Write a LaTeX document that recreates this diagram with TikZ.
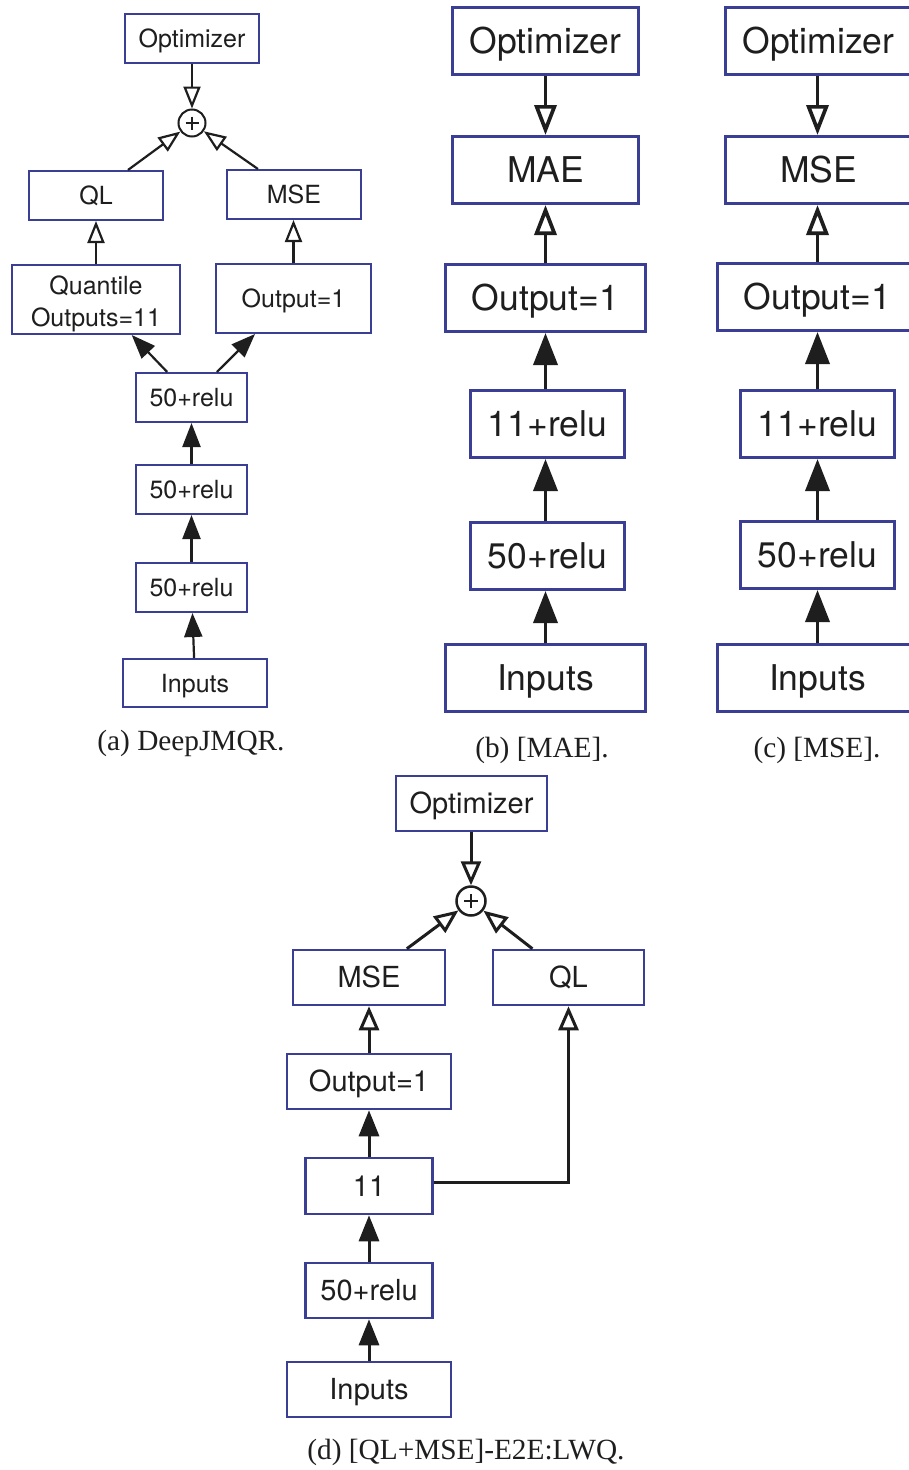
\documentclass[tikz,border=0pt]{standalone}
\usepackage{fontspec}
\setmainfont{Liberation Serif}
\newfontfamily\hv{TeX Gyre Heros}
\usetikzlibrary{arrows.meta,calc}
\definecolor{boxblue}{RGB}{58,62,148}
\definecolor{ink}{RGB}{30,30,30}
\begin{document}
\begin{tikzpicture}[x=1pt,y=-1pt,
  bxA/.style={draw=boxblue, line width=2pt, fill=white, inner sep=0pt, align=center, text=ink, font=\hv\fontsize{25}{32}\selectfont, text height=18pt, text depth=0pt},
  bxB/.style={draw=boxblue, line width=3pt, fill=white, inner sep=0pt, align=center, text=ink, font=\hv\fontsize{35.5}{40}\selectfont, text height=25.6pt, text depth=0pt},
  bxD/.style={draw=boxblue, line width=2.5pt, fill=white, inner sep=0pt, align=center, text=ink, font=\hv\fontsize{29}{34}\selectfont, text height=20.9pt, text depth=0pt},
  sumnode/.style={draw=ink, circle, inner sep=0pt, fill=white},
  capt/.style={font=\fontsize{29.3}{32}\selectfont, text=ink, inner sep=0pt},
  oA/.style={draw=ink, line width=2.2pt, -{Triangle[length=22pt,width=17pt,fill=white]}},
  fA/.style={draw=ink, line width=2.2pt, -{Triangle[length=24pt,width=18pt]}},
  oB/.style={draw=ink, line width=3.7pt, -{Triangle[length=30pt,width=22pt,fill=white]}},
  fB/.style={draw=ink, line width=3.7pt, -{Triangle[length=32pt,width=24pt]}},
  oD/.style={draw=ink, line width=3pt, -{Triangle[length=24pt,width=20pt,fill=white]}},
  fD/.style={draw=ink, line width=3pt, -{Triangle[length=26pt,width=20pt]}},
  pls/.style={draw=ink, line width=1.1pt}
]
\useasboundingbox (0,0) rectangle (908,1470);
\fill[white] (0,0) rectangle (908,1470);

% ---------- (a) DeepJMQR ----------
\node[bxA, minimum width=134pt, minimum height=49pt] (optA) at (192,38.5) {Optimizer};
\node[sumnode, line width=2pt, minimum size=27pt] (plusA) at (192,123) {};
\draw[pls] ($(plusA)+(-6.5,0)$) -- ($(plusA)+(6.5,0)$) ($(plusA)+(0,-6.5)$) -- ($(plusA)+(0,6.5)$);
\node[bxA, minimum width=134pt, minimum height=49pt] (qlA) at (96,195.5) {QL};
\node[bxA, minimum width=134pt, minimum height=49pt] (mseA) at (294,194.5) {MSE};
\node[bxA, minimum width=168pt, minimum height=69pt, text height=0pt, text depth=0pt] (quantA) at (96,299.5) {\raisebox{-10.75pt}[0pt][0pt]{\begin{tabular}{@{}c@{}}Quantile\\Outputs=11\end{tabular}}};
\node[bxA, minimum width=155pt, minimum height=69pt] (outA) at (293.5,298.5) {Output=1};
\node[bxA, minimum width=111pt, minimum height=49pt] (r1A) at (191.5,397.5) {50+relu};
\node[bxA, minimum width=111pt, minimum height=49pt] (r2A) at (191.5,489.5) {50+relu};
\node[bxA, minimum width=111pt, minimum height=49pt] (r3A) at (191.5,587.5) {50+relu};
\node[bxA, minimum width=144pt, minimum height=48pt] (inA) at (195,683) {Inputs};
\node[capt] (capA) at (191,743) {(a) DeepJMQR.};

\draw[oA] (optA) -- (plusA);
\draw[oA] ($(qlA.north)!0.47!(qlA.north east)$) -- (plusA);
\draw[oA] ($(mseA.north)!0.53!(mseA.north west)$) -- (plusA);
\draw[oA] (quantA) -- (qlA);
\draw[oA] (outA.north) -- (outA.north |- mseA.south);
\draw[fA] ($(r1A.north)!0.43!(r1A.north west)$) -- ($(quantA.south)!0.42!(quantA.south east)$);
\draw[fA] ($(r1A.north)!0.45!(r1A.north east)$) -- ($(outA.south)!0.49!(outA.south west)$);
\draw[fA] (r2A) -- (r1A);
\draw[fA] (r3A) -- (r2A);
\draw[fA] (inA) -- (r3A);

% ---------- (b) [MAE] ----------
\node[bxB, minimum width=186pt, minimum height=67pt] (optB) at (545.5,41) {Optimizer};
\node[bxB, minimum width=186pt, minimum height=67pt] (maeB) at (545.5,170) {MAE};
\node[bxB, minimum width=200pt, minimum height=67pt] (outB) at (545.5,298) {Output=1};
\node[bxB, minimum width=154pt, minimum height=67pt] (r11B) at (547.5,424) {11+relu};
\node[bxB, minimum width=154pt, minimum height=67pt] (r50B) at (547.5,556) {50+relu};
\node[bxB, minimum width=200pt, minimum height=67pt] (inB) at (545.5,678) {Inputs};
\node[capt] (capB) at (542,750) {(b) [MAE].};

\draw[oB] (optB) -- (maeB);
\draw[oB] (outB) -- (maeB);
\draw[fB] (r11B.north -| outB) -- (outB);
\draw[fB] (r50B.north -| outB) -- (r11B.south -| outB);
\draw[fB] (inB) -- (r50B.south -| inB);

% ---------- (c) [MSE] ----------
\node[bxB, minimum width=186pt, minimum height=67pt] (optC) at (818.5,41) {Optimizer};
\node[bxB, minimum width=186pt, minimum height=67pt] (mseC) at (818.5,170) {MSE};
\node[bxB, minimum width=200pt, minimum height=67pt] (outC) at (817.5,297) {Output=1};
\node[bxB, minimum width=154pt, minimum height=67pt] (r11C) at (817.5,424) {11+relu};
\node[bxB, minimum width=154pt, minimum height=67pt] (r50C) at (817.5,555) {50+relu};
\node[bxB, minimum width=200pt, minimum height=67pt] (inC) at (817.5,678) {Inputs};
\node[capt] (capC) at (817,750) {(c) [MSE].};

\draw[oB] (optC.south -| outC) -- (mseC.north -| outC);
\draw[oB] (outC) -- (mseC.south -| outC);
\draw[fB] (r11C) -- (outC);
\draw[fB] (r50C) -- (r11C);
\draw[fB] (inC) -- (r50C);

% ---------- (d) [QL+MSE]-E2E:LWQ ----------
\node[bxD, minimum width=151pt, minimum height=55pt] (optD) at (471.5,803.5) {Optimizer};
\node[sumnode, line width=2.5pt, minimum size=29pt] (plusD) at (471,901) {};
\draw[pls, line width=1.2pt] ($(plusD)+(-7,0)$) -- ($(plusD)+(7,0)$) ($(plusD)+(0,-7)$) -- ($(plusD)+(0,7)$);
\node[bxD, minimum width=152pt, minimum height=55pt] (mseD) at (369,977.5) {MSE};
\node[bxD, minimum width=151pt, minimum height=55pt] (qlD) at (568.5,977.5) {QL};
\node[bxD, minimum width=164pt, minimum height=55pt] (outD) at (369,1081.5) {Output=1};
\node[bxD, minimum width=127pt, minimum height=56pt] (n11D) at (369,1186) {11};
\node[bxD, minimum width=127pt, minimum height=55pt] (r50D) at (369,1290.5) {50+relu};
\node[bxD, minimum width=164pt, minimum height=55pt] (inD) at (369,1389.5) {Inputs};
\node[capt] (capD) at (466,1452) {(d) [QL+MSE]-E2E:LWQ.};

\draw[oD] (optD.south -| plusD) -- (plusD);
\draw[oD] ($(mseD.north)!0.49!(mseD.north east)$) -- (plusD);
\draw[oD] ($(qlD.north)!0.47!(qlD.north west)$) -- (plusD);
\draw[oD] (outD) -- (mseD);
\draw[fD] (n11D) -- (outD);
\draw[fD] (r50D) -- (n11D);
\draw[fD] (inD) -- (r50D);
\coordinate (jD) at ($(n11D.east)+(0,-4)$);
\draw[oD] (jD) -| (qlD.south);
\end{tikzpicture}
\end{document}
